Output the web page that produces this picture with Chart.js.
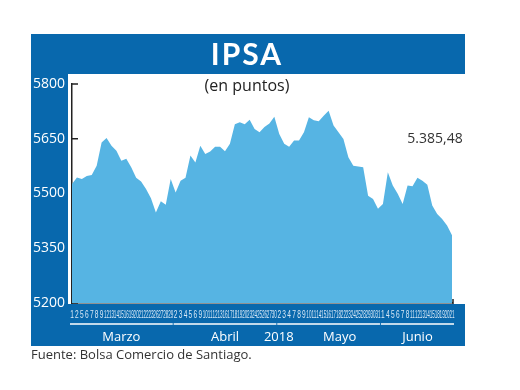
<!DOCTYPE html>
<html>
<head>
<meta charset="utf-8">
<script src="https://cdn.jsdelivr.net/npm/chart.js@4.4.1/dist/chart.umd.min.js"></script>
<style>
  html, body { margin: 0; padding: 0; background: #fff; }
  #wrap { width: 520px; height: 390px; }
</style>
</head>
<body>
<div id="wrap"><canvas id="ipsaChart" width="520" height="390"></canvas></div>
<script>
// dias habiles por mes
const marzoDays = [1, 2, 5, 6, 7, 8, 9, 12, 13, 14, 15, 16, 19, 20, 21, 22, 23, 26, 27, 28, 29];
const abrilDays = [2, 3, 4, 5, 6, 9, 10, 11, 12, 13, 16, 17, 18, 19, 20, 23, 24, 25, 26, 27, 30];
const mayoDays = [2, 3, 4, 7, 8, 9, 10, 11, 14, 15, 16, 17, 18, 22, 23, 24, 25, 28, 29, 30, 31];
const junioDays = [1, 4, 5, 6, 7, 8, 11, 12, 13, 14, 15, 18, 19, 20, 21];

// IPSA cierre (puntos)
const marzoValues = [5526, 5544, 5540, 5548, 5551, 5576, 5640, 5652, 5631, 5617, 5590, 5595, 5572, 5543, 5533, 5512, 5487, 5448, 5479, 5469, 5540];
const abrilValues = [5503, 5535, 5543, 5604, 5585, 5631, 5608, 5615, 5628, 5628, 5616, 5636, 5690, 5695, 5690, 5702, 5677, 5668, 5682, 5692, 5710];
const mayoValues = [5663, 5636, 5628, 5645, 5645, 5668, 5709, 5701, 5698, 5713, 5727, 5686, 5668, 5649, 5599, 5576, 5574, 5572, 5494, 5485, 5458];
const junioValues = [5471, 5558, 5522, 5499, 5471, 5522, 5520, 5543, 5535, 5524, 5467, 5444, 5430, 5412, 5385.48];

const monthNames = ["Marzo", "Abril", "Mayo", "Junio"];
const yearLabel = "2018";
const lastValueLabel = "5.385,48";
const yTicks = [5200, 5350, 5500, 5650, 5800];

const months = [marzoDays, abrilDays, mayoDays, junioDays];
const dayLabels = [].concat(marzoDays, abrilDays, mayoDays, junioDays).map(String);
const values = [].concat(marzoValues, abrilValues, mayoValues, junioValues);

const DARK = "#0868ad";
const LIGHT = "#56b4e3";

const framePlugin = {
  id: "frame",
  beforeDraw(chart) {
    const ctx = chart.ctx;
    ctx.save();
    ctx.fillStyle = "#fff";
    ctx.fillRect(0, 0, 520, 390);
    ctx.fillStyle = DARK;
    ctx.fillRect(31, 34, 434, 312);
    ctx.fillStyle = "#fff";
    ctx.fillRect(68, 74, 397, 230);
    ctx.fillStyle = "#fff";
    ctx.font = 'bold 30px "Lato"';
    ctx.letterSpacing = "2px";
    ctx.textAlign = "center";
    ctx.textBaseline = "alphabetic";
    ctx.fillText("IPSA", 247, 65);
    ctx.letterSpacing = "0px";
    ctx.fillStyle = "#222";
    ctx.font = '16px "Open Sans"';
    ctx.fillText("(en puntos)", 247, 91);
    ctx.restore();
  },
  beforeDatasetsDraw(chart) {
    const ctx = chart.ctx;
    const y = chart.scales.y;
    const left = chart.chartArea.left;
    ctx.save();
    ctx.strokeStyle = "#222";
    ctx.lineWidth = 1.5;
    yTicks.forEach((v) => {
      const py = y.getPixelForValue(v);
      ctx.beginPath();
      ctx.moveTo(left - 1, py);
      ctx.lineTo(left + 6, py);
      ctx.stroke();
    });
    ctx.restore();
  },
  afterDraw(chart) {
    const ctx = chart.ctx;
    const x = chart.scales.x;
    const area = chart.chartArea;
    ctx.save();

    // dias
    ctx.fillStyle = "#d9e9f6";
    ctx.font = '11px "Liberation Sans Narrow", "Liberation Sans"';
    ctx.textAlign = "center";
    ctx.textBaseline = "middle";
    dayLabels.forEach((d, i) => {
      const px = x.getPixelForValue(i);
      ctx.save();
      ctx.translate(px, 315);
      ctx.scale(d.length > 1 ? 0.42 : 0.6, 1);
      ctx.fillText(d, 0, 0);
      ctx.restore();
    });

    // meses
    let start = 0;
    const spans = months.map((m) => {
      const s = { first: start, last: start + m.length - 1 };
      start += m.length;
      return s;
    });
    ctx.strokeStyle = "#fff";
    ctx.lineWidth = 1.5;
    ctx.fillStyle = "#fff";
    ctx.font = '13px "Open Sans"';
    ctx.textBaseline = "alphabetic";
    spans.forEach((s, k) => {
      const x0 = x.getPixelForValue(s.first) - 2;
      const x1 = x.getPixelForValue(s.last) + 2;
      ctx.beginPath();
      ctx.moveTo(x0, 324);
      ctx.lineTo(x1, 324);
      ctx.stroke();
      const shift = k === 2 ? 11 : 0;
      ctx.fillText(monthNames[k], (x0 + x1) / 2 + shift, 341);
    });
    const yx = (x.getPixelForValue(spans[1].last) + x.getPixelForValue(spans[2].first)) / 2;
    ctx.fillText(yearLabel, yx + 2, 341);

    // ultimo valor
    ctx.fillStyle = "#333";
    ctx.font = '14px "Open Sans"';
    ctx.fillText(lastValueLabel, 435, 143);

    // fuente
    ctx.textAlign = "left";
    ctx.fillStyle = "#333";
    ctx.font = '13px "Open Sans"';
    ctx.fillText("Fuente: Bolsa Comercio de Santiago.", 31, 359);

    // marca final eje x
    ctx.strokeStyle = "#222";
    ctx.lineWidth = 1.5;
    ctx.beginPath();
    ctx.moveTo(area.right + 1, area.bottom - 4);
    ctx.lineTo(area.right + 1, area.bottom + 1);
    ctx.stroke();
    ctx.restore();
  }
};

new Chart(document.getElementById("ipsaChart"), {
  type: "line",
  data: {
    labels: dayLabels,
    datasets: [
      {
        data: values,
        fill: "start",
        backgroundColor: LIGHT,
        borderWidth: 0,
        pointRadius: 0,
        tension: 0
      }
    ]
  },
  options: {
    responsive: false,
    animation: false,
    layout: { padding: { left: 0, top: 84, right: 68, bottom: 87 } },
    plugins: {
      legend: { display: false },
      tooltip: { enabled: false }
    },
    scales: {
      x: {
        type: "category",
        offset: false,
        grid: { display: false, drawTicks: false },
        ticks: { display: false },
        border: { display: true, color: "#222", width: 1.5 },
        afterFit: (s) => { s.height = 0; }
      },
      y: {
        min: 5200,
        max: 5800,
        afterBuildTicks: (s) => { s.ticks = yTicks.map((v) => ({ value: v })); },
        grid: { display: false, drawTicks: false },
        border: { display: true, color: "#222", width: 1.5 },
        ticks: {
          color: "#fff",
          padding: 7,
          font: { family: "Open Sans", size: 14 },
          callback: (value) => String(value)
        },
        afterFit: (s) => { s.width = 72; }
      }
    }
  },
  plugins: [framePlugin]
});
</script>
</body>
</html>
